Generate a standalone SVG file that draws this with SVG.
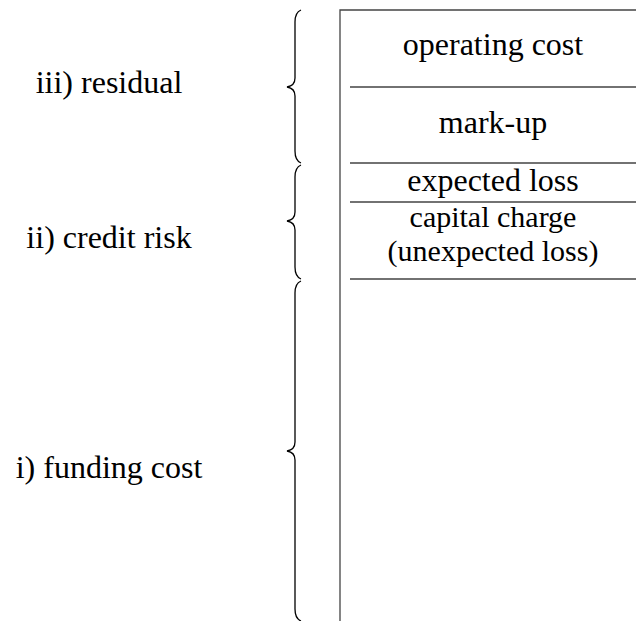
<svg xmlns="http://www.w3.org/2000/svg" width="636" height="621" viewBox="0 0 636 621">
<style>
text{font-family:"Liberation Serif","Times New Roman",serif;font-size:32px;fill:#000;text-anchor:middle}
text.sm{font-size:30px}
.ln{stroke:#444;stroke-width:1.3;fill:none}
.br{stroke:#000;stroke-width:1.3;fill:none}
</style>
<rect width="636" height="621" fill="#fff"/>
<g id="connectors">
<path class="ln" d="M340 621 V10 H636"/>
<path class="ln" d="M350 87 H636 M350 163 H636 M350 202 H636 M350 279 H636"/>
</g>
<g id="brace-residual">
<path class="br" d="M301 10 C296 12 295 16 295 22 L295 78 C295 83 293 86 287 87 C293 88 295 91 295 96 L295 151 C295 157 296 161 301 163"/>
</g>
<g id="brace-credit">
<path class="br" d="M301 165 C296 167 295 171 295 177 L295 212 C295 217 293 220 287 221 C293 222 295 225 295 230 L295 267 C295 273 296 277 301 279"/>
</g>
<g id="brace-funding">
<path class="br" d="M301 281 C296 283 295 287 295 293 L295 442 C295 447 293 450 287 451 C293 452 295 455 295 460 L295 609 C295 615 296 619 301 621"/>
</g>
<g id="operating-cost"><text x="493" y="55">operating cost</text></g>
<g id="mark-up"><text x="493" y="133">mark-up</text></g>
<g id="expected-loss"><text x="493" y="191">expected loss</text></g>
<g id="capital-charge"><text class="sm" x="493" y="227">capital charge</text><text class="sm" x="493" y="261">(unexpected loss)</text></g>
<g id="residual"><text x="109" y="93">iii) residual</text></g>
<g id="credit-risk"><text x="109" y="248">ii) credit risk</text></g>
<g id="funding-cost"><text x="109" y="478">i) funding cost</text></g>
</svg>
